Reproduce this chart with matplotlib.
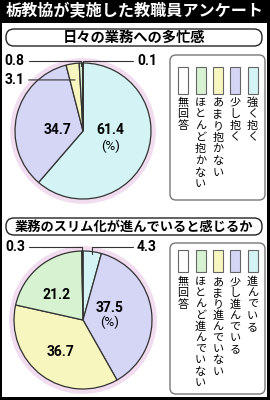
import numpy as np
import matplotlib
matplotlib.use("Agg")
import matplotlib.pyplot as plt
from matplotlib.patches import FancyBboxPatch, Rectangle, Circle

plt.rcParams['font.family'] = ['Noto Sans CJK JP', 'DejaVu Sans']

title = "栃教協が実施した教職員アンケート"

q1_title = "日々の業務への多忙感"
q1_labels = ["強く抱く", "少し抱く", "あまり抱かない", "ほとんど抱かない", "無回答"]
q1_values = [61.4, 34.7, 3.1, 0.8, 0.1]

q2_title = "業務のスリム化が進んでいると感じるか"
q2_labels = ["進んでいる", "少し進んでいる", "あまり進んでいない", "ほとんど進んでいない", "無回答"]
q2_values = [4.3, 37.5, 36.7, 21.2, 0.3]

colors = ["#d3f3f5", "#d5d5f5", "#f8f6bf", "#d6f2d0", "#ffffff"]

W, H = 270, 400
fig = plt.figure(figsize=(2.7, 4.0), dpi=100)
bg = fig.add_axes([0, 0, 1, 1])
bg.set_xlim(0, W)
bg.set_ylim(H, 0)
bg.axis('off')

# frame + title bar
bg.add_patch(Rectangle((0, 0), W, H, fc='black', ec='none'))
bg.add_patch(Rectangle((2, 23), W - 5, H - 26, fc='white', ec='none'))
bg.text(W / 2, 11.5, title, color='white', ha='center', va='center',
        fontsize=11.6, fontweight='bold')


def subtitle(y0, y1, txt, size):
    bg.add_patch(FancyBboxPatch((6, y0), 256, y1 - y0,
                                boxstyle="round,pad=0,rounding_size=8",
                                fc='white', ec='#222', lw=1))
    bg.text(134, (y0 + y1) / 2, txt, ha='center', va='center',
            fontsize=size, fontweight='bold')


def legend(y0, y1, labels, sw_top, sw_h, txt_top, step):
    bg.add_patch(FancyBboxPatch((170, y0), 95, y1 - y0,
                                boxstyle="round,pad=0,rounding_size=6",
                                fc='white', ec='#777', lw=1))
    xs = [252.5, 235, 218, 200.5, 183]
    for lab, col, x in zip(labels, colors, xs):
        bg.add_patch(Rectangle((x - 5, sw_top), 10, sw_h, fc=col, ec='#666', lw=0.8))
        for k, ch in enumerate(lab):
            bg.text(x, txt_top + k * step, ch, ha='center', va='center', fontsize=8)


def pie(cx, cy, r, values):
    m = 1.1
    ax = fig.add_axes([(cx - r * m) / W, 1 - (cy + r * m) / H, 2 * r * m / W, 2 * r * m / H])
    wedges, _ = ax.pie(values, colors=colors, startangle=90, counterclock=False,
                       wedgeprops=dict(edgecolor='#333', linewidth=0.9))
    ax.add_patch(Circle((0, 0), 1.03, fc='none', ec='#f2dcf0', lw=4, zorder=0))
    ax.set_xlim(-m, m)
    ax.set_ylim(-m, m)
    ax.axis('off')
    return ax, wedges


def mid_point(w, rr):
    a = np.deg2rad((w.theta1 + w.theta2) / 2)
    return rr * np.cos(a), rr * np.sin(a)


num = dict(family=['Roboto', 'DejaVu Sans'], fontweight='bold', fontsize=10)
pct = dict(family=['Roboto', 'DejaVu Sans'], fontsize=9.5)
line = dict(arrowstyle='-', color='#333', lw=0.8, shrinkA=1, shrinkB=0)
bend = dict(line, connectionstyle="angle,angleA=0,angleB=90,rad=0")

# --- question 1
subtitle(29, 46, q1_title, 10.3)
ax1, w1 = pie(83, 131, 68, q1_values)
ax1.text(0.40, 0.02, f"{q1_values[0]}", ha='center', va='center', **num)
ax1.text(0.40, -0.23, "(%)", ha='center', va='center', **pct)
ax1.text(-0.38, 0.02, f"{q1_values[1]}", ha='center', va='center', **num)
p = mid_point(w1[2], 0.76)
ax1.annotate(f"{q1_values[2]}", xy=p, xytext=(-0.86, p[1]), ha='right', va='center',
             arrowprops=line, **num)
ax1.annotate(f"{q1_values[3]}", xy=mid_point(w1[3], 0.95), xytext=(-0.86, 1.03),
             ha='right', va='center', arrowprops=bend, **num)
ax1.annotate(f"{q1_values[4]}", xy=mid_point(w1[4], 0.95), xytext=(0.80, 1.03),
             ha='left', va='center', arrowprops=bend, **num)
legend(55, 200, q1_labels, 67, 27, 102.5, 11.7)

# --- question 2
subtitle(218, 235, q2_title, 9.5)
ax2, w2 = pie(83, 320, 69, q2_values)
ax2.text(0.39, 0.17, f"{q2_values[1]}", ha='center', va='center', **num)
ax2.text(0.39, -0.03, "(%)", ha='center', va='center', **pct)
ax2.text(-0.33, -0.46, f"{q2_values[2]}", ha='center', va='center', **num)
ax2.text(-0.38, 0.36, f"{q2_values[3]}", ha='center', va='center', **num)
ax2.annotate(f"{q2_values[0]}", xy=mid_point(w2[0], 0.97), xytext=(0.78, 1.06),
             ha='left', va='center', arrowprops=bend, **num)
ax2.annotate(f"{q2_values[4]}", xy=mid_point(w2[4], 0.95), xytext=(-0.84, 1.06),
             ha='right', va='center', arrowprops=bend, **num)
legend(243, 394, q2_labels, 250, 22, 282, 11.2)

fig.savefig("out.png", dpi=100)
